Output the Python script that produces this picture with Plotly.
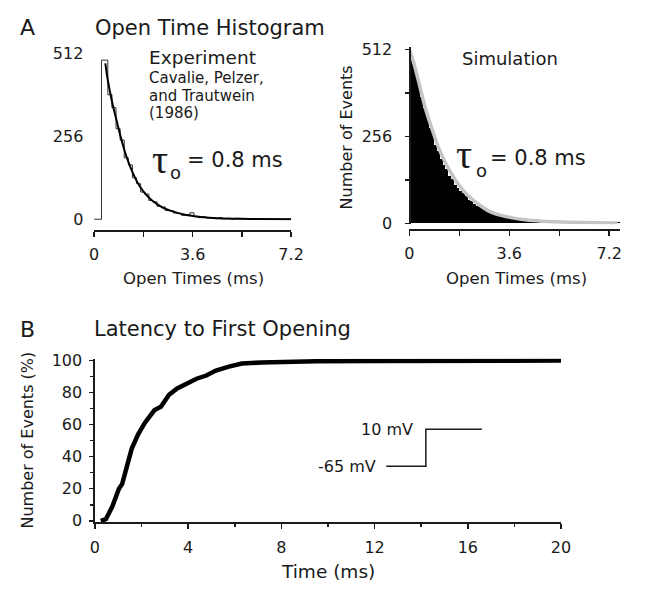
import plotly.graph_objects as go

# ---------------- DATA ----------------
# Panel A left: experimental open-time histogram (bin left edges, counts)
exp_edges = [0, 0.27, 0.5, 0.65, 0.8, 0.95, 1.1, 1.25, 1.4, 1.55, 1.7, 1.85, 2.0, 2.15,
             2.3, 2.45, 2.6, 2.75, 2.9, 3.05, 3.2, 3.35, 3.5, 3.65, 3.8, 3.95, 4.1, 4.25,
             4.4, 4.55, 4.7, 4.85, 5.0, 5.15, 5.3, 5.45, 5.6, 5.75, 5.9, 6.05, 6.2, 6.35,
             6.5, 6.65, 6.8, 6.95, 7.1, 7.2]
exp_counts = [0, 492, 385, 345, 280, 245, 190, 168, 128, 110, 84, 78, 58, 54,
              40, 38, 27, 26, 19, 18, 12, 14, 20, 9, 5, 7, 4, 5,
              2, 5, 2, 3, 1, 3, 1, 2, 1, 0, 1, 0, 1, 0,
              0, 1, 0, 0, 0, 0]
# exponential fit drawn over the experimental histogram
exp_fit_t = [0.41, 0.5, 0.65, 0.83, 1.01, 1.18, 1.42, 1.66, 1.89, 2.13, 2.49, 2.84,
             3.32, 3.91, 4.5, 5.69, 7.2]
exp_fit_n = [482, 430, 365, 302, 242, 194, 142, 103, 77, 57, 37, 25,
             14, 7, 3, 1, 0]

# Panel A right: simulated histogram (0.1 ms bins starting at 0)
sim_bin_width = 0.1
sim_counts = [505, 468, 438, 402, 372, 340, 312, 282, 262, 232,
              214, 190, 172, 160, 140, 132, 114, 104, 94, 90,
              80, 70, 66, 57, 52, 48, 42, 38, 33, 30,
              27, 25, 22, 20, 18, 16, 15, 13, 12, 11,
              10, 9, 8, 7.5, 7, 6.5, 6, 5.5, 5, 4.5,
              4.2, 4.0, 3.8, 3.5, 3.2, 3.0, 2.8, 2.6, 2.4, 2.2,
              2.0, 1.9, 1.8, 1.7, 1.6, 1.5, 1.4, 1.3, 1.2, 1.1,
              1.0, 1.0, 0.5, 0.5, 3, 3]
sim_t = [round(sim_bin_width * (i + 0.5), 3) for i in range(len(sim_counts))]
sim_fit_t = [0, 0.14, 0.37, 0.61, 0.84, 1.07, 1.31, 1.54, 1.77, 2.12, 2.47, 2.94,
             3.53, 4.08, 4.67, 5.84, 7.5]
sim_fit_n = [512, 477, 405, 329, 272, 219, 176, 143, 114, 81, 57, 33,
             19, 11, 7, 3, 1]

# Panel B: cumulative latency to first opening
lat_t = [0.25, 0.47, 0.75, 1.03, 1.17, 1.31, 1.45, 1.58, 1.86, 2.14, 2.4, 2.56, 2.83,
         3.0, 3.18, 3.53, 3.94, 4.36, 4.78, 5.19, 5.75, 6.3, 7.14, 8.1, 9.5, 12, 16, 20]
lat_pct = [0, 1, 9, 20, 23, 31, 38, 45, 54, 61, 66, 69, 71,
           75, 78.5, 82.5, 85.5, 88.5, 90.5, 93.6, 96, 98, 98.6, 99.2, 99.4, 99.5, 99.6, 99.8]

# voltage protocol inset (drawn in panel B data units)
step_t = [12.5, 14.2, 14.2, 16.6]
step_v = [34, 34, 57, 57]
step_labels = ["-65 mV", "10 mV"]
step_label_t = [12.15, 13.75]

# tick labels
hist_xticks = [0, 1.8, 3.6, 5.4, 7.2]
hist_xticktext = ["0", "", "3.6", "", "7.2"]
hist_yticks = [0, 256, 512]
sim_yticks = [0, 128, 256, 384, 512]
sim_yticktext = ["0", "", "256", "", "512"]
lat_xticks = [0, 4, 8, 12, 16, 20]
lat_yticks = [0, 20, 40, 60, 80, 100]

# ---------------- LAYOUT HELPERS ----------------
W, H = 645, 591
def px(x):
    return x / W
def py(y):
    return 1 - y / H

INK = "#1a1a1a"
FONT = "DejaVu Sans"

fig = go.Figure()

# Left panel traces
fig.add_trace(go.Scatter(x=exp_edges, y=exp_counts, mode="lines", line_shape="hv",
                         line=dict(color="#333333", width=1), xaxis="x", yaxis="y",
                         hoverinfo="skip"))
fig.add_trace(go.Scatter(x=exp_fit_t, y=exp_fit_n, mode="lines", line_shape="spline",
                         line=dict(color="black", width=2), xaxis="x", yaxis="y"))

# Right panel traces
fig.add_trace(go.Bar(x=sim_t, y=sim_counts, width=sim_bin_width,
                     marker=dict(color="black", line=dict(width=0)),
                     xaxis="x2", yaxis="y2"))
fig.add_trace(go.Scatter(x=sim_fit_t, y=sim_fit_n, mode="lines", line_shape="spline",
                         line=dict(color="#c4c4c4", width=3.5), xaxis="x2", yaxis="y2"))

# Bottom panel traces
fig.add_trace(go.Scatter(x=lat_t, y=lat_pct, mode="lines",
                         line=dict(color="black", width=4.5), xaxis="x3", yaxis="y3"))
fig.add_trace(go.Scatter(x=step_t, y=step_v, mode="lines",
                         line=dict(color=INK, width=1.5), xaxis="x3", yaxis="y3"))
for lab, lt, lv in zip(step_labels, step_label_t, [step_v[0], step_v[2]]):
    fig.add_annotation(text=lab, x=lt, y=lv, xref="x3", yref="y3", xanchor="right",
                       yanchor="middle", showarrow=False,
                       font=dict(family=FONT, size=16, color=INK))

axis_common = dict(showgrid=False, zeroline=False, linecolor=INK, linewidth=1.5,
                   tickcolor=INK, tickwidth=1.5, tickfont=dict(family=FONT, size=16, color=INK),
                   fixedrange=True)

# left panel axes: y from 0 (px 217.5) to 512 (px 47)
ly0, ly1 = 217.5, 47.0
lscale = (ly0 - ly1) / 512
l_range = [-4, 516]
l_dom = [py(ly0 + 4 * lscale), py(ly1 - 4 * lscale)]

# right panel: 0 at 221.7, 512 at 42.7
ry0, ry1 = 221.7, 42.7
rscale = (ry0 - ry1) / 512
r_range = [-3, 518]
r_dom = [py(ry0 + 3 * rscale), py(ry1 - 6 * rscale)]

# bottom: 0 at 528, 100 at 362.7
by0, by1 = 528.0, 362.7
bscale = (by0 - by1) / 100
b_range = [-1, 101]
b_dom = [py(by0 + 1 * bscale), py(by1 - 1 * bscale)]

fig.update_layout(
    width=W, height=H, margin=dict(l=0, r=0, t=0, b=0),
    paper_bgcolor="white", plot_bgcolor="rgba(0,0,0,0)",
    showlegend=False, bargap=0, barmode="overlay",
    font=dict(family=FONT, size=16, color=INK),
    xaxis=dict(**axis_common, domain=[px(91.7), px(294.3)], range=[0, 7.2],
               anchor="free", position=py(229), showline=True,
               tickmode="array", tickvals=hist_xticks, ticktext=hist_xticktext,
               ticks="outside", ticklen=5, ticklabelstandoff=4),
    xaxis4=dict(**axis_common, overlaying="x", range=[0, 7.2], anchor="free", position=py(229),
                showline=False, tickmode="array", tickvals=hist_xticks, ticks="inside",
                ticklen=5, showticklabels=False),
    yaxis=dict(**axis_common, domain=l_dom, range=l_range, anchor="free", position=px(95),
               showline=False, tickmode="array", tickvals=hist_yticks, ticks="",
               ticklabelstandoff=14),
    yaxis4=dict(**axis_common, overlaying="y", range=[0, 512], anchor="free", position=px(95),
                showline=True, tickmode="array", tickvals=[256], ticks="outside", ticklen=5,
                showticklabels=False),
    yaxis5=dict(**axis_common, overlaying="y", range=l_range, anchor="free", position=px(95),
                showline=False, tickmode="array", tickvals=[0, 512], ticks="inside", ticklen=5,
                showticklabels=False),
    xaxis2=dict(**axis_common, domain=[px(416), px(633)], range=[0, 7.6],
                anchor="free", position=py(227.7), showline=True,
                tickmode="array", tickvals=hist_xticks, ticktext=hist_xticktext,
                ticks="outside", ticklen=5, ticklabelstandoff=4),
    yaxis2=dict(**axis_common, domain=r_dom, range=r_range, anchor="free", position=px(416),
                showline=True, tickmode="array", tickvals=sim_yticks, ticktext=sim_yticktext,
                ticks="outside", ticklen=4, ticklabelstandoff=10),
    xaxis3=dict(**axis_common, domain=[px(92.5), px(572)], range=[0, 20], anchor="y3",
                showline=True, tickmode="array", tickvals=lat_xticks, ticks="outside",
                ticklen=5, ticklabelstandoff=5,
                minor=dict(tickvals=[2, 6, 10, 14, 18], ticks="outside", ticklen=3,
                           tickcolor=INK, tickwidth=1.5)),
    yaxis3=dict(**axis_common, domain=b_dom, range=b_range, anchor="x3",
                showline=True, tickmode="array", tickvals=lat_yticks, ticks="outside",
                ticklen=4, ticklabelstandoff=4,
                minor=dict(tickvals=[10, 30, 50, 70, 90], ticks="outside", ticklen=3,
                           tickcolor=INK, tickwidth=1.5)),
)

def note(text, x, y, size, xanchor="left", angle=0, family=FONT, yanchor="middle"):
    fig.add_annotation(text=text, x=px(x), y=py(y), xref="paper", yref="paper",
                       xanchor=xanchor, yanchor=yanchor, showarrow=False, textangle=angle,
                       align="left",
                       font=dict(family=family, size=size, color=INK))

# panel labels & titles
note("A", 23, 20, 22, "center")
note("Open Time Histogram", 91, 21, 21)
note("B", 23, 331, 22, "center")
note("Latency to First Opening", 90, 331, 21)

# left panel text
note("Experiment", 146, 50.5, 18.5)
ref_lines = ["Cavalie, Pelzer,", "and Trautwein", "(1986)"]
note("<br>".join('<span style="font-size:15px">%s</span>' % s for s in ref_lines),
     146, 90, 13.6)
note("τ", 159, 156, 40, "center", family="Liberation Serif")
note("o", 175, 169, 18, "center")
note("= 0.8 ms", 185, 156, 21)

# right panel text
note("Simulation", 520, 52, 18, "center")
note("τ", 472, 151, 40, "center", family="Liberation Serif")
note("o", 490, 167, 18, "center")
note("= 0.8 ms", 497, 154, 21)

# axis titles
note("Open Times (ms)", 194, 279, 16.5, "center")
note("Open Times (ms)", 526, 279, 16.5, "center")
note("Number of Events", 351, 133, 16, "center", angle=-90)
note("Number of Events (%)", 23, 445, 16, "center", angle=-90)
note("Time (ms)", 332, 580, 18.5, "center")

fig.write_html("out.html", include_plotlyjs=True, full_html=True,
               config={"displayModeBar": False, "staticPlot": True})
